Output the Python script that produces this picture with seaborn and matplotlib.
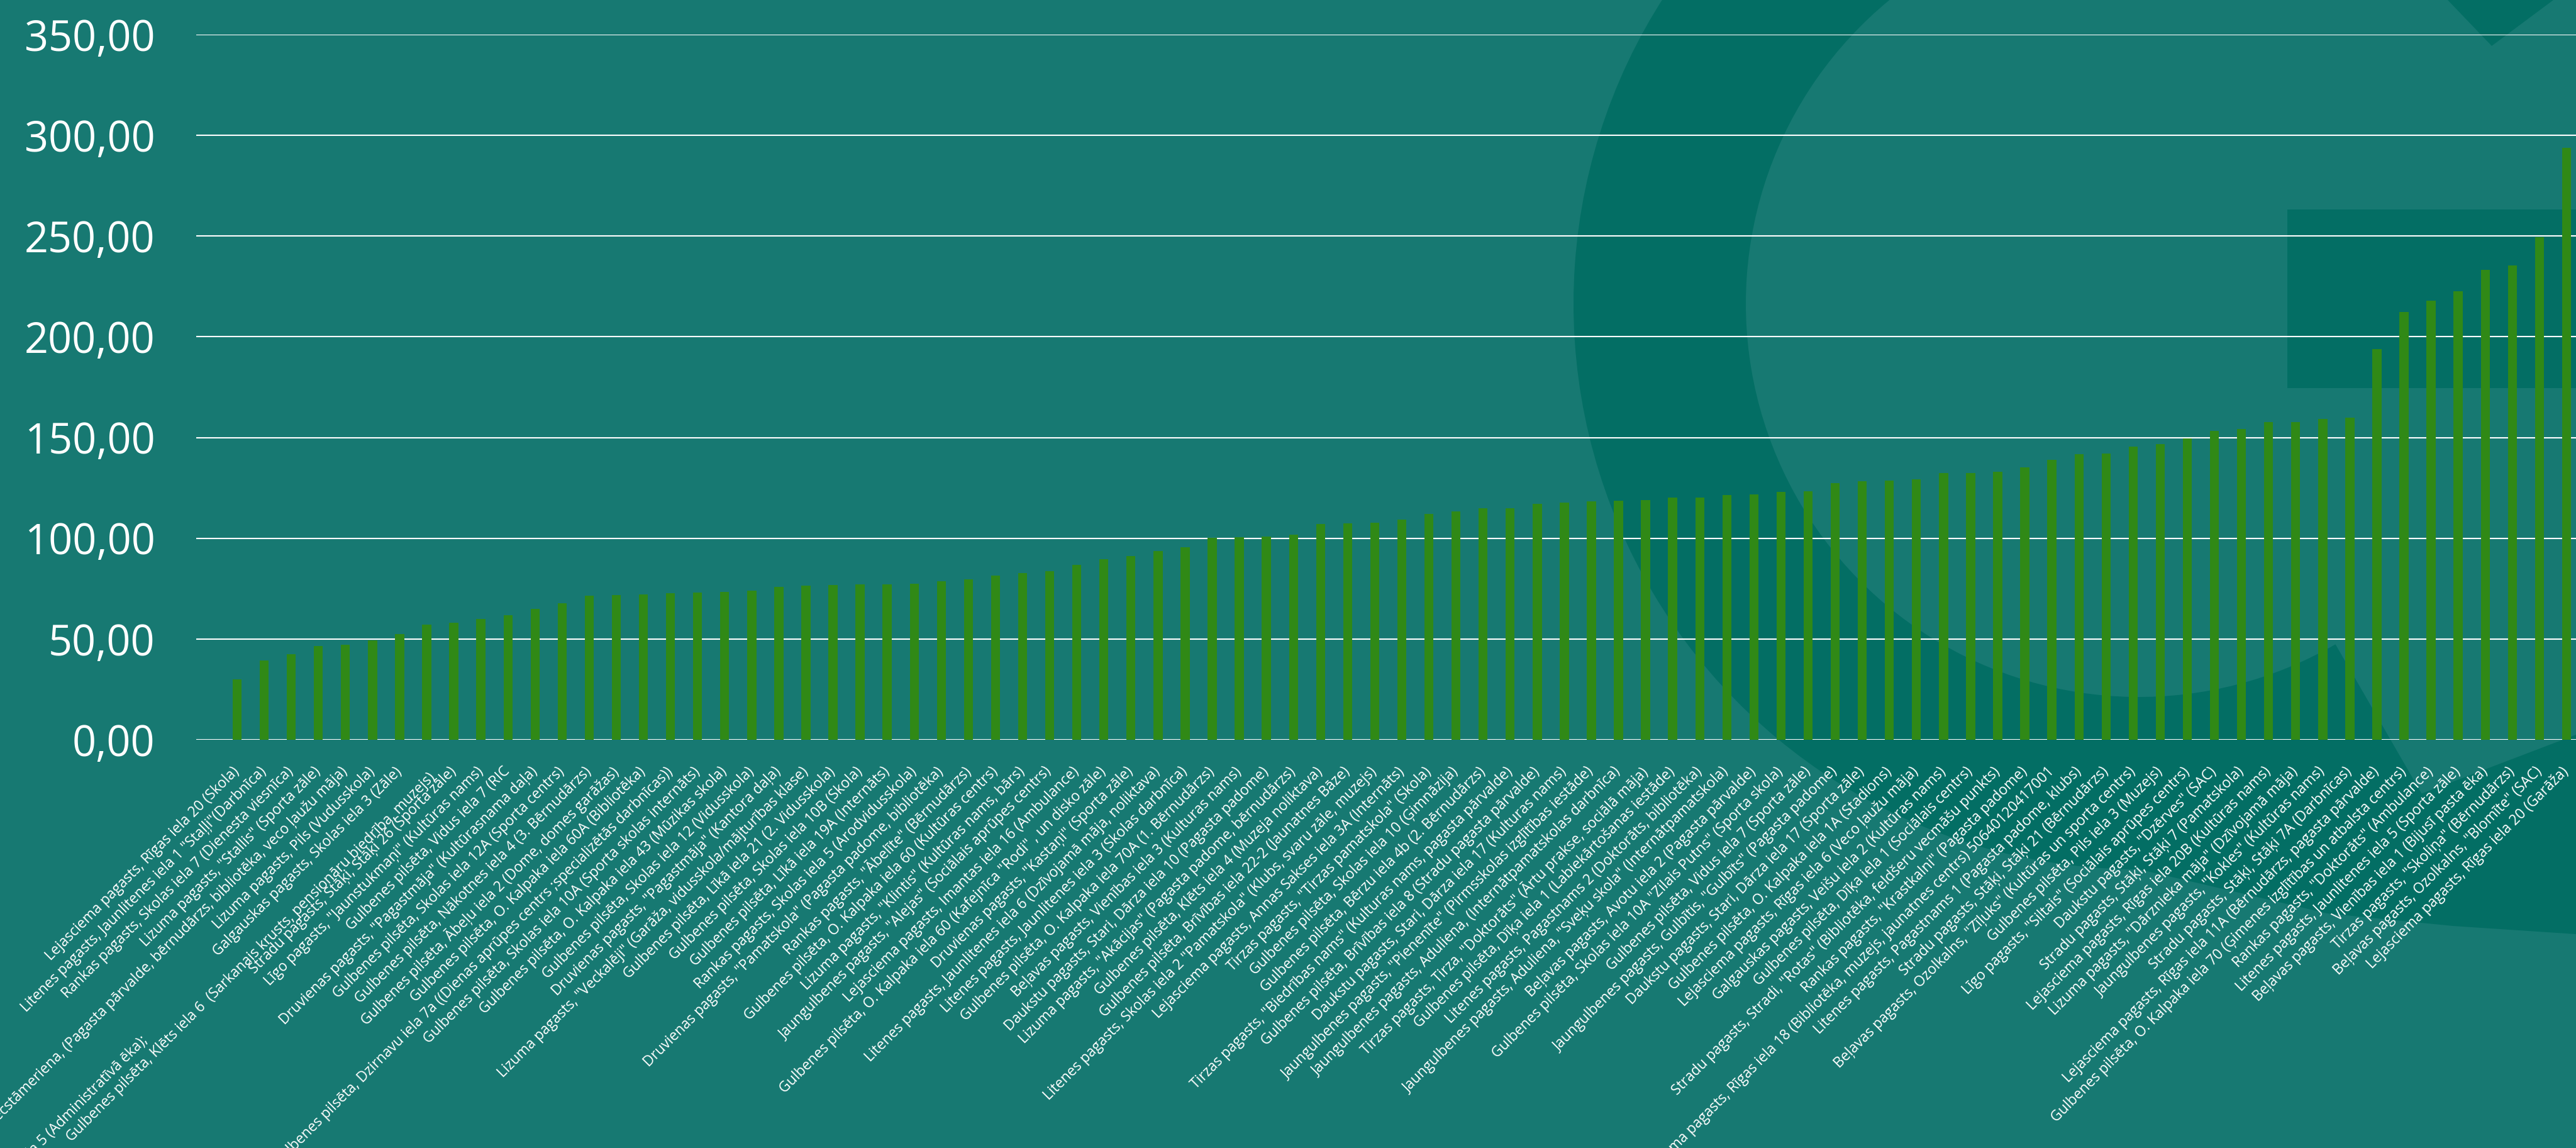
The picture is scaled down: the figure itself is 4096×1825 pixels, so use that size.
import matplotlib
matplotlib.use("Agg")
import matplotlib.pyplot as plt
from matplotlib.patches import Wedge, Polygon, Rectangle
from matplotlib.ticker import FuncFormatter
import numpy as np
import pandas as pd
import seaborn as sns

# Objects (address and purpose) in ascending order of value
objekti = [
    'Lejasciema pagasts, Rīgas iela 20 (Skola)',
    'Litenes pagasts, Jaunlitenes iela 1 "Staļļi"(Darbnīca)',
    'Rankas pagasts, Skolas iela 7 (Dienesta viesnīca)',
    'Lizuma pagasts, "Stallis" (Sporta zāle)',
    'Stāmerienas pagasts, Vecstāmeriena, (Pagasta pārvalde, bērnudārzs, bibliotēka, veco ļaužu māja)',
    'Lizuma pagasts, Pils (Vudusskola)',
    'Galgauskas pagasts, Skolas iela 3 (Zāle)',
    'Gulbenes pilsēta, Brīvības iela 5 (Administratīvā ēka);' + ' ' * 103
    + '\nGulbenes pilsēta, Klēts iela 6  (Sarkanais krusts, pensionāru biedrība, muzejs)',
    'Stradu pagasts, Stāķi, Stāķi 26 (Sporta zāle)',
    'Līgo pagasts, "Jaunstukmaņi" (Kultūras nams)',
    'Gulbenes pilsēta, Vidus iela 7 (RIC',
    'Druvienas pagasts, "Pagastmāja" (Kultūrasnama daļa)',
    'Gulbenes pilsēta, Skolas iela 12A (Sporta centrs)',
    'Gulbenes pilsēta, Nākotnes iela 4 (3. Bērnudārzs)',
    'Gulbenes pilsēta, Ābeļu iela 2 (Dome, domes garāžas)',
    'Gulbenes pilsēta, O. Kalpaka iela 60A (Bibliotēka)',
    'Gulbenes pilsēta, Dzirnavu iela 7a ((Dienas aprūpes centrs ;specializētās darbnīcas))',
    'Gulbenes pilsēta, Skolas iela 10A (Sporta skolas internāts)',
    'Gulbenes pilsēta, O. Kalpaka iela 43 (Mūzikas skola)',
    'Gulbenes pilsēta, Skolas iela 12 (Vidusskola)',
    'Druvienas pagasts, "Pagastmāja" (Kantora daļa)',
    'Lizuma pagasts, "Veckalēji" (Garāža, vidusskola/mājturības klase)',
    'Gulbenes pilsēta, Līkā iela 21 (2. Vidusskola)',
    'Gulbenes pilsēta, Skolas iela 10B (Skola)',
    'Gulbenes pilsēta, Līkā iela 19A (Internāts)',
    'Rankas pagasts, Skolas iela 5 (Arodvidusskola)',
    'Druvienas pagasts, "Pamatskola" (Pagasta padome, bibliotēka)',
    'Rankas pagasts, "Ābelīte" (Bērnudārzs)',
    'Gulbenes pilsēta, O. Kalpaka iela 60 (Kultūras centrs)',
    'Lizuma pagasts, "Klintis" (Kultūras nams, bārs)',
    'Jaungulbenes pagasts, "Alejas" (Sociālais aprūpes centrs)',
    'Lejasciema pagasts, Imantas iela 16 (Ambulance)',
    'Gulbenes pilsēta, O. Kalpaka iela 60 (Kafejnīca "Rodi" , un disko zāle)',
    'Druvienas pagasts, "Kastaņi" (Sporta zāle)',
    'Litenes pagasts, Jaunlitenes iela 6 (Dzīvojamā māja, noliktava)',
    'Litenes pagasts, Jaunlitenes iela 3 (Skolas darbnīca)',
    'Gulbenes pilsēta, O. Kalpaka iela 70A (1. Bērnudārzs)',
    'Beļavas pagasts, Vienības iela 3 (Kulturas nams)',
    'Daukstu pagasts, Stari, Dārza iela 10 (Pagasta padome)',
    'Lizuma pagasts, "Akācijas" (Pagasta padome, bērnudārzs)',
    'Gulbenes pilsēta, Klēts iela 4 (Muzeja noliktava)',
    'Gulbenes pilsēta, Brīvības iela 22-2 (Jaunatnes Bāze)',
    'Litenes pagasts, Skolas iela 2 "Pamatskola" (Klubs, svaru zāle, muzejs)',
    'Lejasciema pagasts, Annas Sakses iela 3A (Internāts)',
    'Tirzas pagasts, "Tirzas pamatskola" (Skola)',
    'Gulbenes pilsēta, Skolas iela 10 (Ģimnāzija)',
    'Gulbenes pilsēta, Bērzu iela 4b (2. Bērnudārzs)',
    'Tirzas pagasts, "Biedrības nams" (Kulturas nams, pagasta pārvalde)',
    'Gulbenes pilsēta, Brīvības iela 8 (Stradu pagasta pārvalde)',
    'Daukstu pagasts, Stari, Dārza iela 17 (Kulturas nams)',
    'Jaungulbenes pagasts, "Pienenīte" (Pirmsskolas izglītības iestāde)',
    'Jaungulbenes pagasts, Aduliena, (Internātpamatskolas darbnīca)',
    'Tirzas pagasts, Tirza, "Doktorāts" (Ārtu prakse, sociālā māja)',
    'Gulbenes pilsēta, Dīķa iela 1 (Labiekārtošanas iestāde)',
    'Litenes pagasts, Pagastnams 2 (Doktorāts, bibliotēka)',
    'Jaungulbenes pagasts, Aduliena, "Sveķu skola" (Internātpamatskola)',
    'Beļavas pagasts, Avotu iela 2 (Pagasta pārvalde)',
    'Gulbenes pilsēta, Skolas iela 10A "Zilais Putns" (Sporta skola)',
    'Gulbenes pilsēta, Vidus iela 7 (Sporta zāle)',
    'Jaungulbenes pagasts, Gulbītis, "Gulbīts" (Pagasta padome)',
    'Daukstu pagasts, Stari, Dārza iela 17 (Sporta zāle)',
    'Gulbenes pilsēta, O. Kalpaka iela 1A (Stadions)',
    'Lejasciema pagasts, Rīgas iela 6 (Veco ļaužu māja)',
    'Galgauskas pagasts, Veišu iela 2 (Kultūras nams)',
    'Gulbenes pilsēta, Dīķa iela 1 (Sociālais centrs)',
    'Stradu pagasts, Stradi, "Rotas" (Bibliotēka, feldšeru vecmāšu punkts)',
    'Rankas pagasts, "Krastkalni" (Pagasta padome)',
    'Lejasciema pagasts, Rīgas iela 18 (Bibliotēka, muzejs, jaunatnes centrs) 50640120417001',
    'Litenes pagasts, Pagastnams 1 (Pagasta padome, klubs)',
    'Stradu pagasts, Stāķi, Stāķi 21 (Bērnudārzs)',
    'Beļavas pagasts, Ozolkalns, "Zīļuks" (Kultūras un sporta centrs)',
    'Gulbenes pilsēta, Pils iela 3 (Muzejs)',
    'Līgo pagasts, "Siltais" (Sociālais aprūpes centrs)',
    'Daukstu pagasts, "Dzērves" (SAC)',
    'Stradu pagasts, Stāķi, Stāķi 7 (Pamatskola)',
    'Lejasciema pagasts, Rīgas iela 20B (Kultūras nams)',
    'Lizuma pagasts, "Dārznieka māja" (Dzīvojamā māja)',
    'Jaungulbenes pagasts, "Kokles" (Kultūras nams)',
    'Stradu pagasts, Stāķi, Stāķi 7A (Darbnīcas)',
    'Lejasciema pagasts, Rīgas iela 11A (Bērnudārzs, pagasta pārvalde)',
    'Gulbenes pilsēta, O. Kalpaka iela 70 (Ģimenes izglītības un atbalsta centrs)',
    'Rankas pagasts, "Doktorāts" (Ambulance)',
    'Litenes pagasts, Jaunlitenes iela 5 (Sporta zāle)',
    'Beļavas pagasts, Vienības iela 1 (Bijusī pasta ēka)',
    'Tirzas pagasts, "Skoliņa" (Bērnudārzs)',
    'Beļavas pagasts, Ozolkalns, "Blomīte" (SAC)',
    'Lejasciema pagasts, Rīgas iela 20 (Garāža)',
]

vertibas = [
    30.1, 39.4, 42.6, 46.4, 47.1, 49.2, 52.5, 57.1, 58.0, 60.1,
    61.9, 65.0, 67.8, 71.4, 71.7, 72.1, 72.7, 73.0, 73.5, 74.1,
    75.9, 76.5, 76.9, 77.2, 77.2, 77.4, 78.8, 79.5, 81.5, 82.6,
    83.8, 86.9, 89.5, 91.3, 93.8, 95.6, 100.3, 100.4, 100.8, 101.9,
    107.0, 107.5, 107.7, 109.3, 112.1, 113.4, 114.9, 114.9, 117.0, 117.6,
    118.4, 118.7, 118.9, 120.3, 120.3, 121.5, 121.9, 123.1, 123.2, 127.5,
    128.4, 128.5, 129.4, 132.4, 132.5, 133.1, 135.2, 138.8, 141.9, 142.0,
    145.4, 146.6, 149.5, 153.4, 154.2, 157.7, 157.7, 159.2, 159.9, 193.8,
    212.2, 217.8, 222.5, 233.2, 235.4, 249.4, 293.7,
]

y_ticks = [0, 50, 100, 150, 200, 250, 300, 350]

BG = "#177972"
DARK = "#036E64"
BAR = "#308916"

sns.set_theme(style="white")
plt.rcParams['font.family'] = ['Open Sans', 'DejaVu Sans']

W, H = 4096, 1825
fig = plt.figure(figsize=(W / 100, H / 100), dpi=100, facecolor=BG)
T = fig.dpi_scale_trans


def px(x, y):
    """Pixel position (from top-left) to inches for the figure transform."""
    return (x / 100, (H - y) / 100)


# Watermark emblem drawn behind the chart
cx, cy = px(3401, 483)
fig.add_artist(Wedge((cx, cy), 8.99, 52, 300, width=2.74, transform=T,
                     facecolor=DARK, edgecolor='none', zorder=0))
arc = [px(3401 + 899 * np.cos(np.radians(a)), 483 - 899 * np.sin(np.radians(a)))
       for a in np.linspace(270, 300, 12)]
swoosh = arc + [px(4096, 1168), px(4096, 1485), px(3900, 1472),
                px(3700, 1452), px(3500, 1405)]
fig.add_artist(Polygon(swoosh, closed=True, transform=T, facecolor=DARK,
                       edgecolor='none', zorder=0))
fig.add_artist(Rectangle(px(3637, 617), (W - 3637) / 100, (617 - 333) / 100,
                         transform=T, facecolor=DARK, edgecolor='none', zorder=0))
fig.add_artist(Polygon([px(3892, 0), px(4060, 0), px(3962, 73)], closed=True,
                       transform=T, facecolor=DARK, edgecolor='none', zorder=0))

ax = fig.add_axes([312 / W, 1 - 1176 / H, 1 - 312 / W, (1176 - 55) / H])
ax.set_facecolor('none')

df = pd.DataFrame({'poz': np.arange(len(vertibas)), 'vertiba': vertibas})
sns.barplot(data=df, x='poz', y='vertiba', color=BAR, saturation=1,
            width=0.334, ax=ax, zorder=3, edgecolor='none', linewidth=0)

ax.set_xlim(-1.51, 86.35)
ax.set_ylim(0, 350)
ax.set_yticks(y_ticks)
ax.yaxis.set_major_formatter(FuncFormatter(lambda v, p: f"{v:.2f}".replace('.', ',')))
ax.grid(axis='y', color='white', linewidth=1.5)
ax.grid(axis='x', visible=False)
ax.set_axisbelow(True)
for s in ax.spines.values():
    s.set_visible(False)

ax.set_xticks(np.arange(len(objekti)))
ax.set_xticklabels(objekti, rotation=45, ha='right', va='center',
                   rotation_mode='anchor', fontsize=16.5, color='white')
ax.tick_params(axis='x', length=0, pad=34)
ax.tick_params(axis='y', length=0, pad=47, labelsize=48, labelcolor='white')
ax.set_xlabel('')
ax.set_ylabel('')

fig.savefig('out.png', dpi=100, facecolor=BG)
